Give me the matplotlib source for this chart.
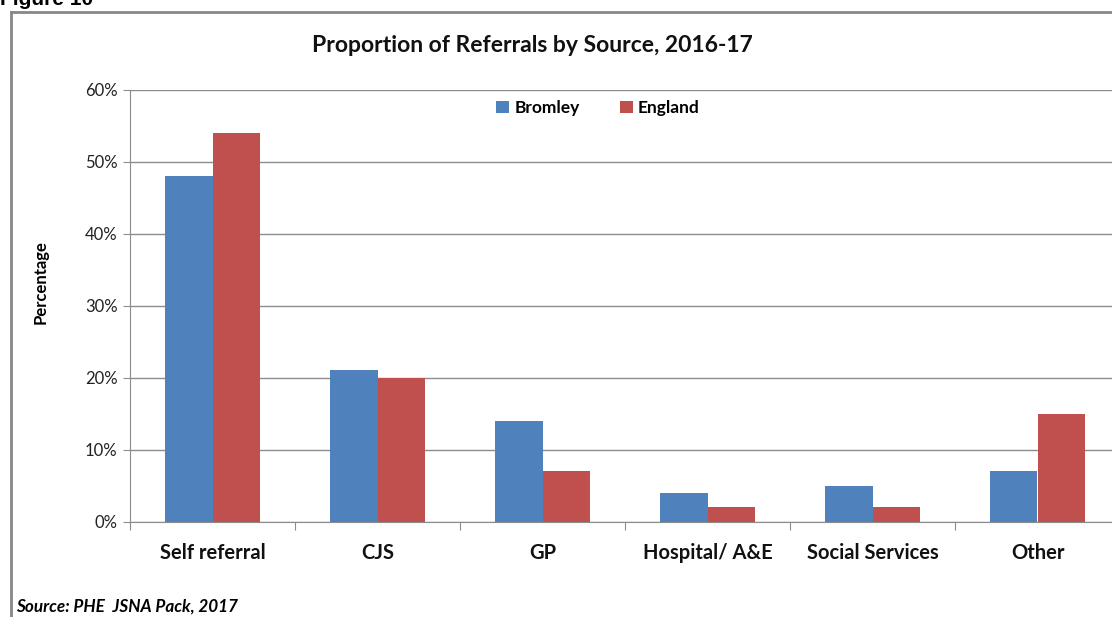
import matplotlib
matplotlib.use("Agg")
import matplotlib.pyplot as plt
import numpy as np
from matplotlib.lines import Line2D
from matplotlib.ticker import FuncFormatter, MultipleLocator

categories = ["Self referral", "CJS", "GP", "Hospital/ A&E", "Social Services", "Other"]
bromley = [48, 21, 14, 4, 5, 7]
england = [54, 20, 7, 2, 2, 15]
series_names = ["Bromley", "England"]
colors = ["#4F81BD", "#C0504D"]

plt.rcParams['font.family'] = ['Lato', 'DejaVu Sans']

W, H = 1112, 617
fig = plt.figure(figsize=(W / 100, H / 100), dpi=100)

def fx(px):
    return px / W

def fy(py):
    return 1 - py / H

# axes: left 130, right beyond the edge, top 89.5, bottom 521.7
left, right, top, bottom = 130, 1120, 89.5, 521.7
ax = fig.add_axes([fx(left), fy(bottom), fx(right - left), (bottom - top) / H])

x = np.arange(len(categories))
bw = 0.287
ax.bar(x - bw / 2, bromley, bw, color=colors[0], label=series_names[0], zorder=3)
ax.bar(x + bw / 2, england, bw, color=colors[1], label=series_names[1], zorder=3)

ax.set_xlim(-0.5, len(categories) - 0.5)
ax.set_ylim(0, 60)
ax.yaxis.set_major_locator(MultipleLocator(10))
ax.yaxis.set_major_formatter(FuncFormatter(lambda v, p: f"{int(v)}%"))
ax.grid(axis='y', color='#8c8c8c', linewidth=1, zorder=0)
for s in ['top', 'right']:
    ax.spines[s].set_visible(False)
ax.spines['left'].set_color('#8c8c8c')
ax.spines['bottom'].set_color('#8c8c8c')
ax.tick_params(axis='y', length=5, color='#8c8c8c', labelsize=12, labelcolor='#222222', pad=4)
ax.set_xticks(np.arange(len(categories) + 1) - 0.5)
ax.set_xticklabels([])
ax.tick_params(axis='x', length=6, color='#8c8c8c')
for i, c in enumerate(categories):
    ax.text(i, -4.3, c, ha='center', va='center', fontsize=14.5, fontweight='bold', color='#111111')

ax.set_ylabel("Percentage", fontsize=12, fontweight='bold')
ax.yaxis.set_label_coords((49 - left) / (right - left), 1 - (282 - top) / (bottom - top))

leg = ax.legend(loc='center', bbox_to_anchor=((598 - left) / (right - left), 1 - (108 - top) / (bottom - top)),
                ncol=2, frameon=False, handlelength=0.75, handleheight=0.75,
                columnspacing=2.3, handletextpad=0.3, prop={'weight': 'bold', 'size': 12.5})

fig.text(fx(532), fy(45), "Proportion of Referrals by Source, 2016-17", ha='center', va='center',
         fontsize=16.5, fontweight='bold', color='#111111')

fig.text(0.0, fy(5), "Figure 10", ha='left', va='baseline', fontsize=15, fontweight='bold',
         family=['Liberation Sans', 'DejaVu Sans'])

fig.text(fx(16), fy(607), "Source: PHE  JSNA Pack, 2017", ha='left', va='center', fontsize=12.3,
         fontweight='bold', style='italic')

# border box
fig.add_artist(Line2D([fx(11), fx(11)], [fy(12), 0], color='#888888', linewidth=2))
fig.add_artist(Line2D([fx(11), 1], [fy(12), fy(12)], color='#888888', linewidth=2))

fig.savefig("out.png", dpi=100)
